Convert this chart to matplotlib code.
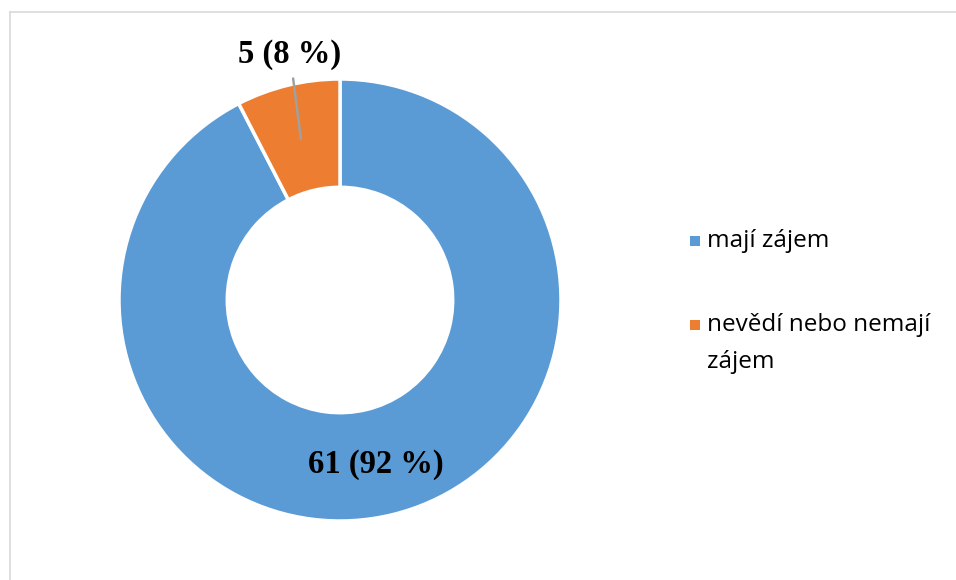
"""Koláčový (prstencový) graf — zájem respondentů"""

import numpy as np
import matplotlib.pyplot as plt
from matplotlib.patches import Rectangle
from matplotlib.lines import Line2D

labels = ['mají zájem', 'nevědí nebo nemají\nzájem']
counts = [61, 5]
percents = [92, 8]
colors = ['#5B9BD5', '#ED7D31']

W, H = 956, 580
fig = plt.figure(figsize=(W / 100, H / 100), dpi=100)

# rámeček grafu (jen horní a levá hrana je vidět)
fig.add_artist(Line2D([10 / W, 1], [1 - 12 / H, 1 - 12 / H], color='#d9d9d9', lw=1.2))
fig.add_artist(Line2D([10 / W, 10 / W], [0, 1 - 12 / H], color='#d9d9d9', lw=1.2))

# osa s koláčem: střed (340, 300) px, poloměr 221 px
ax = fig.add_axes([90 / W, 30 / H, 500 / W, 500 / H])
lim = 250 / 221
wedges, _ = ax.pie(counts, colors=colors, startangle=90, counterclock=False,
                   radius=1, wedgeprops=dict(width=0.49, edgecolor='white', linewidth=2.5))
ax.set_xlim(-lim, lim)
ax.set_ylim(-lim, lim)
ax.set_aspect('equal')
ax.axis('off')

font_lbl = dict(family='Liberation Serif', weight='bold', fontsize=23.5)
for w, c, p in zip(wedges, counts, percents):
    mid = np.deg2rad((w.theta1 + w.theta2) / 2)
    txt = f'{c} ({p} %)'
    if p > 50:
        ax.text(0.765 * np.cos(mid) - 0.02, 0.765 * np.sin(mid), txt,
                ha='center', va='center', **font_lbl)
    else:
        ax.annotate(txt, xy=(0.75 * np.cos(mid), 0.75 * np.sin(mid)),
                    xytext=(-0.226, 1.11), ha='center', va='center',
                    arrowprops=dict(arrowstyle='-', color='#a0a0a0', lw=1.8,
                                    shrinkA=4, shrinkB=0),
                    **font_lbl)

# legenda ručně: čtvereček zarovnaný s prvním řádkem popisku
y = 241
for lab, col in zip(labels, colors):
    fig.add_artist(Rectangle((690 / W, 1 - (y + 5) / H), 10 / W, 10 / H,
                             facecolor=col, edgecolor='none'))
    for i, line in enumerate(lab.split('\n')):
        fig.text(707 / W, 1 - (y + i * 37) / H, line, family='Open Sans', fontsize=17.5,
                 ha='left', va='center')
    y += 84

fig.savefig('out.png', dpi=100)
